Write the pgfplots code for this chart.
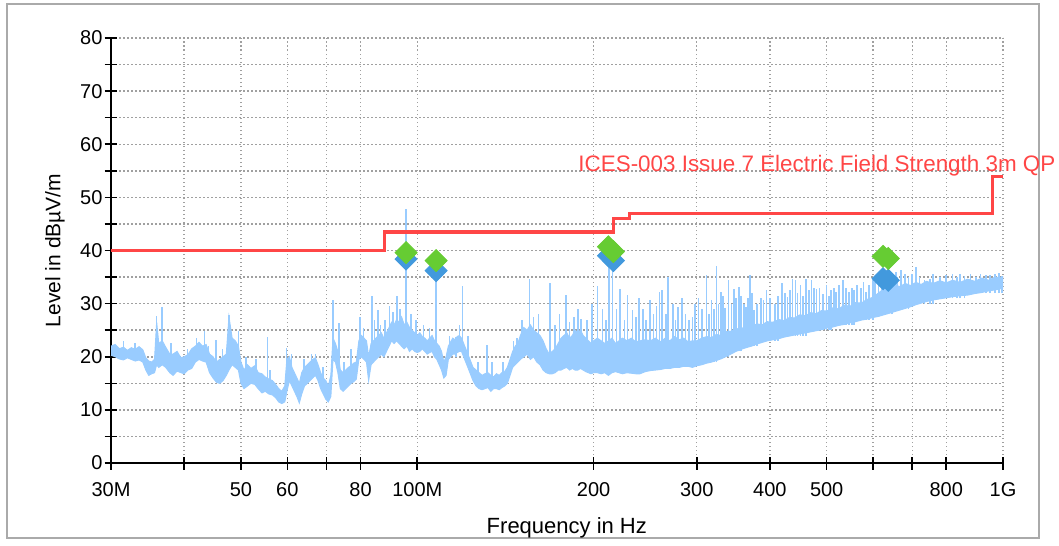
\documentclass[border=0pt]{standalone}
\usepackage{fontspec}
\setmainfont{Liberation Sans}
\usepackage{pgfplots}
\usepackage{pgfplotstable}
\pgfplotsset{compat=1.18}
\usepgfplotslibrary{fillbetween}
\definecolor{trace}{RGB}{153,204,255}
\definecolor{limred}{RGB}{255,70,70}
\definecolor{mkgreen}{RGB}{102,204,51}
\definecolor{mkblue}{RGB}{66,153,221}
\definecolor{frame}{RGB}{170,170,170}
\definecolor{gridc}{RGB}{160,160,160}

\pgfplotstableread{
f lo hi
30.0 20.3 22.0
30.5 20.0 22.3
31.0 19.6 21.5
31.5 19.4 21.8
32.0 19.8 21.2
32.5 19.5 21.7
33.0 19.2 21.4
33.5 19.4 21.9
34.0 19.0 21.3
34.4 17.5 19.8
34.8 16.5 19.2
35.2 16.8 19.0
35.6 17.0 19.5
35.9 18.5 26.5
36.2 18.0 22.5
36.7 18.5 23.0
37.2 18.0 21.8
37.8 17.0 20.5
38.3 16.5 20.5
38.9 17.3 21.0
39.5 17.0 19.8
40.0 16.8 20.0
40.6 17.5 20.4
41.2 17.8 21.5
41.8 19.0 22.0
42.4 19.5 22.7
43.0 19.2 22.0
43.6 19.0 22.3
44.2 17.0 20.5
44.8 16.0 20.0
45.4 15.2 19.0
46.0 15.0 19.5
46.6 15.5 20.0
47.2 16.5 20.5
47.7 17.5 27.5
48.3 18.5 23.5
48.9 18.0 23.0
49.5 17.5 22.0
50.0 15.0 19.0
50.6 14.0 17.5
51.3 14.5 18.5
52.0 15.0 17.8
52.8 14.8 18.3
53.5 14.0 17.0
54.3 13.2 16.8
55.0 13.5 16.2
55.8 13.0 15.8
56.6 12.8 15.5
57.3 12.3 14.8
58.0 11.5 14.0
58.7 11.2 13.5
59.4 11.5 14.5
59.9 13.5 19.5
60.5 15.5 20.0
61.1 14.5 18.0
61.7 13.5 17.0
62.3 12.5 16.0
62.9 11.3 15.0
63.5 13.0 17.0
64.2 14.5 18.0
64.9 15.0 18.5
65.6 15.5 19.0
66.3 16.0 19.5
67.0 16.5 19.8
67.7 15.5 18.5
68.4 14.0 17.0
69.1 13.0 16.0
69.8 12.0 15.5
70.5 11.5 14.5
71.2 12.5 16.5
71.8 19.5 23.5
72.5 19.0 22.5
73.2 17.0 21.0
73.9 14.0 17.5
74.7 13.5 17.0
75.5 14.0 17.5
76.3 14.5 18.0
77.1 15.0 18.3
77.9 15.3 18.8
78.7 15.8 19.0
79.5 19.5 23.0
80.3 20.0 24.0
81.1 19.5 23.5
81.9 19.0 23.0
82.6 15.5 20.0
83.4 18.5 22.5
84.2 19.0 23.0
85.0 19.5 23.5
85.9 20.0 24.0
86.8 20.5 24.5
87.7 20.0 23.5
88.6 21.0 24.5
89.5 22.0 25.5
90.4 23.0 26.5
91.3 22.5 26.0
92.2 23.0 27.0
93.1 22.5 26.5
94.0 22.0 27.5
95.0 21.5 26.0
96.0 22.0 26.5
97.0 21.0 25.5
98.0 21.5 25.0
99.0 21.0 24.5
100.0 20.8 24.0
101.0 21.0 24.5
102.0 21.5 23.8
103.0 21.0 23.5
104.0 20.5 23.0
105.0 20.8 23.5
106.0 21.0 24.0
107.0 20.0 23.0
108.0 19.5 22.5
109.0 18.5 22.0
110.0 17.5 21.0
111.0 16.0 19.0
112.0 16.5 20.0
113.0 19.5 22.0
114.0 20.0 22.8
115.0 20.5 23.5
116.0 20.5 23.2
117.0 20.8 23.8
118.0 21.0 24.0
119.0 21.0 23.5
120.0 20.0 22.5
121.5 18.5 21.0
123.0 17.0 19.5
124.5 15.5 18.0
126.0 14.5 17.5
127.5 14.0 17.0
129.0 13.8 16.5
130.5 14.0 16.8
132.0 14.2 17.0
133.5 13.5 16.5
135.0 14.0 16.2
136.5 14.0 16.8
138.0 13.8 16.5
139.5 14.2 17.0
141.0 14.5 17.2
142.5 15.0 18.0
144.0 16.5 19.5
145.5 18.0 21.0
147.0 18.5 22.0
148.5 19.0 22.5
150.0 19.5 24.0
152.0 20.0 25.5
154.0 20.5 25.0
156.0 19.5 26.0
158.0 20.0 25.0
160.0 19.0 24.5
162.0 18.5 24.0
164.0 17.5 23.0
166.0 17.0 21.5
168.0 16.8 20.5
170.0 16.8 21.0
172.0 17.0 21.5
174.0 17.5 22.5
176.0 17.5 23.5
178.0 17.8 24.0
180.0 18.0 24.5
182.0 17.5 23.5
184.0 17.8 24.0
186.0 17.5 25.0
188.0 17.5 24.5
190.0 17.8 25.0
192.0 17.5 24.0
194.0 17.2 23.5
196.0 17.0 23.0
198.0 16.8 22.5
200.0 17.0 23.0
203.0 17.0 23.5
206.0 16.8 23.0
209.0 17.0 22.5
212.0 16.5 23.0
215.0 17.0 23.5
218.0 17.2 22.5
221.0 17.0 23.0
224.0 16.8 23.5
228.0 17.0 23.0
232.0 16.9 23.5
236.0 16.8 22.8
240.0 16.8 23.0
245.0 17.2 23.2
250.0 17.4 23.0
255.0 17.5 23.5
260.0 17.6 22.8
265.0 17.8 23.5
270.0 17.8 23.0
275.0 18.0 23.8
280.0 18.0 23.2
285.0 18.2 23.5
290.0 18.2 22.8
295.0 18.0 23.0
300.0 18.3 23.0
306.0 18.5 23.5
312.0 18.8 23.8
318.0 19.0 23.6
324.0 19.3 24.2
330.0 19.6 24.0
336.0 20.0 24.7
343.0 20.5 24.8
350.0 21.0 25.3
357.0 21.4 25.2
364.0 21.7 25.8
372.0 22.0 25.6
380.0 22.4 26.2
388.0 22.7 26.0
396.0 23.0 26.6
405.0 23.2 26.5
414.0 23.4 27.0
423.0 23.7 26.8
432.0 23.9 27.4
441.0 24.1 27.3
450.0 24.3 27.9
460.0 24.5 27.7
470.0 24.7 28.3
480.0 24.9 28.1
490.0 25.1 28.7
500.0 25.4 28.6
512.0 25.6 29.2
524.0 25.9 29.0
536.0 26.1 29.7
548.0 26.4 29.5
560.0 26.6 30.2
573.0 26.9 30.1
586.0 27.1 30.8
600.0 27.4 31.2
613.0 27.6 32.0
626.0 27.9 32.8
640.0 28.2 32.5
653.0 28.5 33.5
667.0 28.8 33.2
681.0 29.1 33.8
695.0 29.4 33.4
710.0 29.8 34.0
725.0 30.1 33.6
740.0 30.4 34.2
760.0 30.7 33.8
780.0 30.9 34.3
800.0 31.1 33.9
820.0 31.3 34.4
845.0 31.5 34.0
870.0 31.6 34.6
895.0 31.9 34.2
920.0 32.1 34.8
945.0 32.4 34.4
970.0 32.6 35.0
1000.0 32.9 34.8
}\trace

\pgfplotstableread{
f b t
31.5 20 23.0
33.0 20 22.5
35.9 20 27.6
36.7 21 29.4
38.0 19 22.5
40.5 18 21.5
42.0 20 23.5
43.3 21 24.8
44.0 19 22.0
45.3 18 23.2
46.5 17 21.5
47.7 20 27.9
49.5 20 24.8
51.0 16 20.0
53.0 16 19.5
55.5 15 23.7
56.0 14 17.5
59.8 15 21.6
61.0 16 20.5
64.0 16 19.5
66.0 17 20.5
67.0 17 20.5
69.0 15 18.0
71.8 20 30.7
73.5 18 26.3
75.0 15 19.0
77.0 16 21.5
79.8 20 27.4
81.0 21 25.5
83.6 20 31.4
84.5 20 27.0
85.7 21 28.8
86.5 21 26.0
88.0 22 27.0
89.7 22 29.6
91.0 24 28.5
92.4 24 31.4
93.5 24 29.0
95.7 22 47.8
97.5 23 28.0
99.5 22 27.0
102.5 22 26.0
105.0 22 25.5
107.7 20 36.2
113.5 21 24.0
116.5 20 23.8
118.0 22 26.0
119.4 21 33.3
122.0 19 24.0
127.0 15 19.0
131.5 15 22.3
134.0 15 19.0
140.0 15 19.0
146.0 19 23.0
148.0 19 23.5
151.0 21 27.0
155.5 20 34.7
158.0 21 27.5
161.0 20 28.0
168.4 18 33.9
172.0 18 26.0
175.0 18 28.0
179.4 18 31.7
182.0 18 26.5
185.3 18 27.5
188.0 18 29.0
190.3 18 27.2
195.0 18 27.0
199.0 18 30.0
203.0 18 33.3
207.0 18 29.0
210.0 18 27.0
212.5 18 38.0
215.5 18 37.5
219.0 18 29.0
222.0 18 32.8
226.0 18 27.0
228.6 18 31.6
233.0 18 28.8
236.0 18 27.5
239.0 18 31.0
243.0 18 29.0
246.0 18 27.0
249.7 18 30.7
253.0 18 28.0
256.0 18 29.5
259.0 18 32.2
262.0 18 32.5
266.0 18 28.0
268.0 18 35.0
273.0 18 30.0
276.0 18 27.0
279.0 18 29.4
283.0 19 31.0
287.0 19 28.0
291.0 19 26.9
295.0 19 27.5
298.0 19 30.0
302.0 19 31.0
306.0 19 29.0
311.7 19 35.3
315.0 19 28.0
318.0 19 30.7
321.0 19 29.0
324.0 19 37.0
327.0 20 30.0
330.0 20 32.2
333.0 20 31.5
335.0 20 29.1
340.0 20 34.4
344.0 21 30.0
347.0 21 32.8
350.0 21 31.0
354.0 21 33.1
357.0 21 31.5
361.0 22 30.0
364.0 22 29.4
367.0 22 31.0
370.0 22 35.3
373.0 22 32.0
376.0 22 28.8
380.0 22 30.0
386.0 23 31.0
390.0 23 30.7
395.0 23 32.5
400.0 23 31.0
408.0 23 30.0
413.0 23 31.5
419.0 24 33.8
424.0 24 32.0
428.6 24 31.3
433.0 24 32.5
437.0 24 34.7
442.0 24 34.4
446.0 24 32.0
451.0 24 33.5
456.0 24 31.5
461.0 24 34.7
466.0 25 32.5
471.0 25 34.4
476.0 25 33.0
480.0 25 32.8
486.0 25 33.0
493.0 25 31.9
500.0 25 33.5
505.0 25 31.5
508.0 25 32.5
514.0 26 33.0
519.0 26 32.2
525.0 26 33.5
533.0 26 34.4
540.0 26 33.0
546.0 26 32.2
552.0 26 33.0
557.0 26 32.5
563.0 27 33.5
572.0 27 33.0
578.0 27 34.0
584.0 27 32.2
590.0 27 33.5
600.0 27 34.4
605.0 28 34.0
613.0 28 35.0
620.0 28 35.0
635.0 28 35.5
647.0 28 35.6
656.0 29 35.9
660.0 29 35.0
670.0 29 36.3
680.0 29 35.5
690.0 29 35.0
700.0 30 35.5
710.0 30 36.9
720.0 30 35.0
735.0 30 34.4
750.0 30 34.7
760.0 30 35.5
780.0 31 35.0
800.0 31 35.3
820.0 31 35.6
834.0 31 35.0
845.0 31 35.5
860.0 31 35.2
880.0 32 35.5
900.0 32 35.0
915.0 32 35.6
935.0 32 35.4
950.0 32 35.3
970.0 32 35.6
985.0 32 35.7
995.0 32 35.2
}\spikes

\begin{document}
\begin{tikzpicture}
\path (0,0) rectangle (529.5pt,270pt);
\draw[frame, line width=1.2pt] (3.5pt,1pt) rectangle (519.5pt,268pt);
\begin{axis}[
  at={(55.5pt,38.5pt)}, anchor=south west,
  scale only axis, width=446pt, height=212.5pt,
  xmode=log, xmin=30, xmax=1000, ymin=0, ymax=80,
  axis lines=left, axis line style={-, line width=1pt, black},
  xtick={30,40,50,60,70,80,100,200,300,400,500,600,700,800,1000},
  xticklabels={30M,,50,60,,80,100M,200,300,400,500,,,800,1G},
  xminorticks=false,
  ytick={0,10,...,80}, minor ytick={5,15,...,75},
  xmajorgrids=true, xminorgrids=false, ymajorgrids=true, yminorgrids=true,
  major grid style={gridc, line width=0.75pt, dash pattern=on 0.75pt off 1.25pt},
  minor grid style={gridc, line width=0.75pt, dash pattern=on 0.75pt off 1.25pt},
  tick align=center, major tick length=6.5pt, minor tick length=6.5pt,
  tick style={black, line width=0.8pt},
  /pgf/number format/assume math mode=true,
  ticklabel style={font=\fontsize{10}{12}\selectfont},
  yticklabel style={xshift=2.5pt},
  xticklabel style={yshift=-3pt},
  xlabel={Frequency in Hz}, ylabel={Level in dBµV/m},
  xlabel style={font=\fontsize{11}{13}\selectfont, at={(axis description cs:0.511,-0.167)}, anchor=base},
  ylabel style={font=\fontsize{10.5}{12}\selectfont, at={(axis description cs:-0.0628,0.5)}, anchor=center},
  clip=false,
]
\addplot[name path=lo, draw=trace, line width=0.5pt] table[x=f,y=lo]{\trace};
\addplot[name path=hi, draw=trace, line width=0.5pt] table[x=f,y=hi]{\trace};
\addplot[fill=trace, draw=none] fill between[of=lo and hi];
\addplot[draw=none, mark=none, error bars/.cd, y dir=plus, y explicit, error mark=none,
  error bar style={draw=trace, line width=0.8pt}]
  table[x=f, y=b, y error expr=\thisrow{t}-\thisrow{b}]{\spikes};
\addplot[const plot, draw=limred, line width=1.6pt] coordinates {(30,40) (88,43.5) (216,46) (230,47) (960,54) (1000,54)};
\addplot[color=mkblue, only marks, mark=square*, mark size=3.9pt, mark options={rotate=45, draw=mkblue, fill=mkblue}]
  coordinates {(95.7,38.4) (107.7,36.2) (212,39.0) (216.2,38.1) (624,34.7) (637,34.4)};
\addplot[color=mkgreen, only marks, mark=square*, mark size=3.9pt, mark options={rotate=45, draw=mkgreen, fill=mkgreen}]
  coordinates {(95.7,39.6) (107.7,38.1) (212,40.7) (216.2,39.8) (624,38.9) (637,38.5)};
\node[anchor=base west, text=limred, font=\fontsize{11.2}{13}\selectfont, inner sep=0pt] at (axis cs:188.2,54.86) {ICES-003 Issue 7 Electric Field Strength 3m QP};
\end{axis}
\end{tikzpicture}
\end{document}
